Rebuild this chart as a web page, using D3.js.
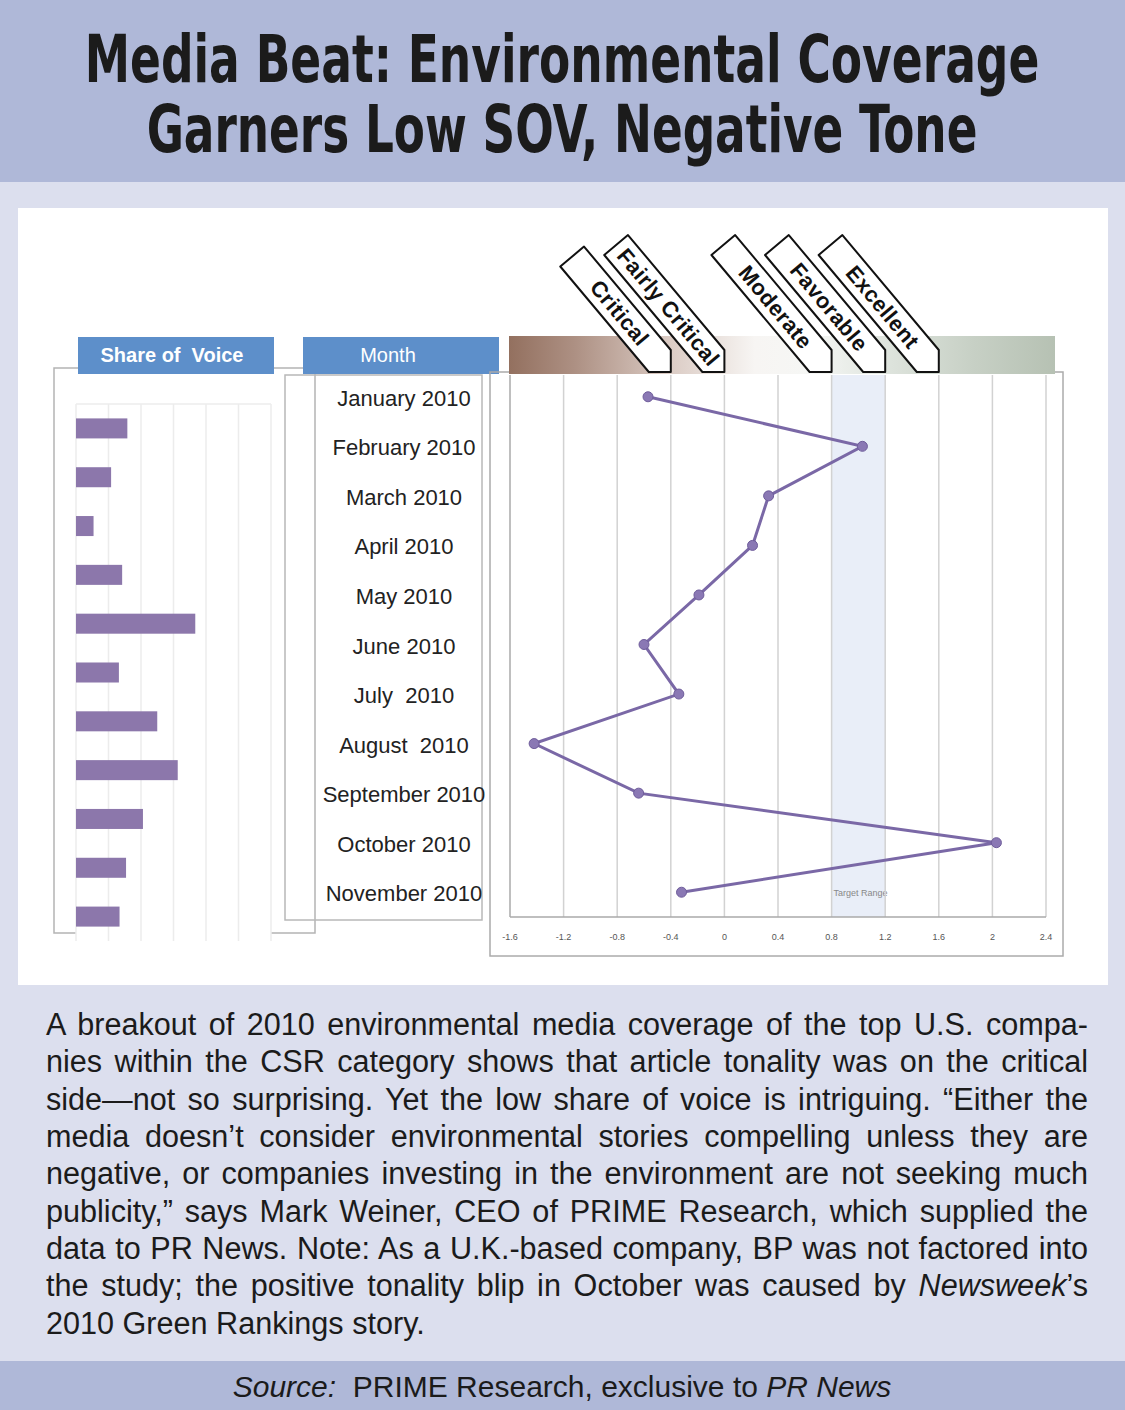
<!DOCTYPE html>
<html>
<head>
<meta charset="utf-8">
<script src="https://cdn.jsdelivr.net/npm/d3@7"></script>
<style>
body { margin: 0; background: #fff; }
svg text { font-family: "Liberation Sans", Arial, Helvetica, sans-serif; }
</style>
</head>
<body>
<svg id="chart" width="1125" height="1410"></svg>
<script>
const months = ["January 2010", "February 2010", "March 2010", "April 2010", "May 2010", "June 2010",
                "July  2010", "August  2010", "September 2010", "October 2010", "November 2010"];
const shareOfVoice = [1.58, 1.08, 0.54, 1.42, 3.67, 1.32, 2.5, 3.13, 2.06, 1.54, 1.34];
const tone = [-0.57, 1.03, 0.33, 0.21, -0.19, -0.60, -0.34, -1.42, -0.64, 2.03, -0.32];
const sovTicks = [0, 1, 2, 3, 4, 5, 6];
const toneTicks = [-1.6, -1.2, -0.8, -0.4, 0, 0.4, 0.8, 1.2, 1.6, 2, 2.4];
const toneTickLabels = ["-1.6", "-1.2", "-0.8", "-0.4", "0", "0.4", "0.8", "1.2", "1.6", "2", "2.4"];
const toneCategories = ["Critical", "Fairly Critical", "Moderate", "Favorable", "Excellent"];
const toneCategoryAt = [-0.4, 0, 0.8, 1.2, 1.6];
const targetRange = [0.8, 1.2];

const titleLines = ["Media Beat: Environmental Coverage", "Garners Low SOV, Negative Tone"];
const bodyLines = [
    "A breakout of 2010 environmental media coverage of the top U.S. compa-",
    "nies within the CSR category shows that article tonality was on the critical",
    "side\u2014not so surprising. Yet the low share of voice is intriguing. \u201CEither the",
    "media doesn\u2019t consider environmental stories compelling unless they are",
    "negative, or companies investing in the environment are not seeking much",
    "publicity,\u201D says Mark Weiner, CEO of PRIME Research, which supplied the",
    "data to PR News. Note: As a U.K.-based company, BP was not factored into",
    "the study; the positive tonality blip in October was caused by _Newsweek_\u2019s",
    "2010 Green Rankings story."
];
const sourceParts = ["_Source:_  PRIME Research, exclusive to _PR News_"];

const svg = d3.select("#chart");
const bandColor = "#afb8d8";

// backgrounds
svg.append("rect").attr("width", 1125).attr("height", 1410).attr("fill", "#dcdfee");
svg.append("rect").attr("width", 1125).attr("height", 182).attr("fill", bandColor);
svg.append("rect").attr("y", 1361).attr("width", 1125).attr("height", 49).attr("fill", bandColor);
svg.append("rect").attr("x", 18).attr("y", 208).attr("width", 1090).attr("height", 777).attr("fill", "#fff");

// title, squeezed to the reference width
svg.selectAll("text.title").data(titleLines).join("text").attr("class", "title")
    .attr("text-anchor", "middle")
    .style("font-family", "'Liberation Sans Narrow', 'Arial Narrow', 'DejaVu Sans Condensed', sans-serif")
    .style("font-weight", "bold").style("font-size", "66px").style("fill", "#1b1b1b")
    .text(d => d)
    .each(function (d, i) {
        const target = i == 0 ? 955 : 831;
        const sx = target / this.getComputedTextLength();
        const cx = i == 0 ? 562 : 562;
        d3.select(this).attr("transform", `translate(${cx},${i == 0 ? 82 : 152}) scale(${sx},1)`);
    });

// ---------- share of voice panel ----------
const sovX = d3.scaleLinear().domain([0, 6]).range([76, 271]);
const rowY = d3.scaleBand().domain(months).range([404, 941]).paddingInner(0.59).paddingOuter(0.295);

svg.append("path")
    .attr("d", "M76,933 H54 V368 H315 V933 H271")
    .attr("fill", "none").attr("stroke", "#b4b4b4").attr("stroke-width", 1.5);

const sovG = svg.append("g");
sovG.selectAll("line.grid").data(sovTicks).join("line").attr("class", "grid")
    .attr("x1", d => sovX(d)).attr("x2", d => sovX(d))
    .attr("y1", 404).attr("y2", 941)
    .attr("stroke", "#ececec").attr("stroke-width", 1.5);
sovG.append("line").attr("x1", sovX(0)).attr("x2", sovX(6)).attr("y1", 404).attr("y2", 404)
    .attr("stroke", "#ececec").attr("stroke-width", 1.5);
sovG.selectAll("rect.bar").data(shareOfVoice).join("rect").attr("class", "bar")
    .attr("x", sovX(0))
    .attr("y", (d, i) => rowY(months[i]))
    .attr("width", d => sovX(d) - sovX(0))
    .attr("height", rowY.bandwidth())
    .attr("fill", "#8c77ab");

// ---------- month panel ----------
svg.append("rect").attr("x", 285).attr("y", 375).attr("width", 197).attr("height", 545)
    .attr("fill", "none").attr("stroke", "#b8b8b8").attr("stroke-width", 1.5);

// headers
const headers = [{label: "Share of  Voice", x: 78, bold: true}, {label: "Month", x: 303, bold: false}];
const hdr = svg.selectAll("g.hdr").data(headers).join("g").attr("class", "hdr");
hdr.append("rect").attr("x", d => d.x).attr("y", 337).attr("width", 196).attr("height", 37).attr("fill", "#5d8fca");
hdr.append("text").attr("x", d => d.x + (d.bold ? 94 : 85)).attr("y", 362)
    .attr("text-anchor", "middle").style("fill", "#fff").style("font-size", "20px")
    .style("font-weight", d => d.bold ? "bold" : "normal").style("white-space", "pre")
    .text(d => d.label);

// ---------- tone panel ----------
const x = d3.scaleLinear().domain([-1.6, 2.4]).range([510, 1046]);
const y = d3.scaleBand().domain(months).range([372, 917]);
const yc = m => y(m) + y.bandwidth() / 2;

svg.selectAll("text.month").data(months).join("text").attr("class", "month")
    .attr("x", 404).attr("y", d => yc(d) + 9)
    .attr("text-anchor", "middle").style("font-size", "22px").style("fill", "#222")
    .style("white-space", "pre")
    .text(d => d);

svg.append("rect").attr("x", 490).attr("y", 372).attr("width", 573).attr("height", 584)
    .attr("fill", "none").attr("stroke", "#ababab").attr("stroke-width", 1.5);

svg.append("rect").attr("x", x(targetRange[0])).attr("y", 375)
    .attr("width", x(targetRange[1]) - x(targetRange[0])).attr("height", 542)
    .attr("fill", "#e9eef8");
svg.append("text").attr("x", x(targetRange[0]) + 2).attr("y", 896)
    .style("font-size", "9px").style("fill", "#888").text("Target Range");

svg.selectAll("line.tgrid").data(toneTicks).join("line").attr("class", "tgrid")
    .attr("x1", d => x(d)).attr("x2", d => x(d)).attr("y1", 375).attr("y2", 917)
    .attr("stroke", (d, i) => i == 0 ? "#aaa" : "#d2d2d2").attr("stroke-width", 1.5);
svg.append("line").attr("x1", x(-1.6)).attr("x2", x(2.4)).attr("y1", 917).attr("y2", 917)
    .attr("stroke", "#aaa").attr("stroke-width", 1.5);
svg.selectAll("text.tick").data(toneTicks).join("text").attr("class", "tick")
    .attr("x", d => x(d)).attr("y", 940).attr("text-anchor", "middle")
    .style("font-size", "9px").style("fill", "#555")
    .text((d, i) => toneTickLabels[i]);

// gradient bar
const grad = svg.append("defs").append("linearGradient").attr("id", "toneGrad");
[[0, "#93705f"], [0.12, "#ad9083"], [0.3, "#dccdc6"], [0.45, "#f7f5f3"], [0.55, "#f6f7f5"],
 [0.7, "#dde3dc"], [0.85, "#c7d0c5"], [1, "#b6c1b3"]].forEach(s =>
    grad.append("stop").attr("offset", s[0]).attr("stop-color", s[1]));
svg.append("rect").attr("x", 509).attr("y", 336).attr("width", 546).attr("height", 38)
    .attr("fill", "url(#toneGrad)");

// line + dots
const line = d3.line().x(d => x(d.v)).y(d => yc(d.m));
const pts = months.map((m, i) => ({m: m, v: tone[i]}));
svg.append("path").datum(pts).attr("d", line)
    .attr("fill", "none").attr("stroke", "#7a68a6").attr("stroke-width", 3);
svg.selectAll("circle.pt").data(pts).join("circle").attr("class", "pt")
    .attr("cx", d => x(d.v)).attr("cy", d => yc(d.m)).attr("r", 5)
    .attr("fill", "#8a78b4").attr("stroke", "#6f5d9b").attr("stroke-width", 1);

// category tags
const theta = 50 * Math.PI / 180;
const ux = Math.cos(theta), uy = Math.sin(theta);
const tipY = 372, tipCut = 22;
svg.selectAll("g.tag").data(toneCategories).join("g").attr("class", "tag")
    .each(function (label, i) {
        const g = d3.select(this);
        const tx = x(toneCategoryAt[i]);
        const len = i == 0 ? 135 : 150;
        const A = [tx, tipY - tipCut], B = [tx - tipCut, tipY];
        const bu = [A[0] - len * ux, A[1] - len * uy];
        const t = ux * (bu[0] - B[0]) + uy * (bu[1] - B[1]);
        const bl = [B[0] + t * ux, B[1] + t * uy];
        g.append("path")
            .attr("d", d3.line()([bu, A, [tx, tipY], B, bl]) + "Z")
            .attr("fill", "#fff").attr("stroke", "#111").attr("stroke-width", 2)
            .attr("stroke-linejoin", "round");
        const mx = (bu[0] + bl[0]) / 2 + (len / 2 + 6) * ux;
        const my = (bu[1] + bl[1]) / 2 + (len / 2 + 6) * uy;
        g.append("text")
            .attr("transform", `translate(${mx},${my}) rotate(50)`)
            .attr("text-anchor", "middle").attr("dominant-baseline", "central")
            .style("font-size", "22px").style("font-weight", "bold").style("fill", "#111")
            .style("letter-spacing", "0.4px")
            .text(label);
    });

// ---------- body text ----------
function addRich(sel, str) {
    str.split("_").forEach((part, k) => {
        if (part.length) sel.append("tspan").style("font-style", k % 2 ? "italic" : "normal").text(part);
    });
}
const body = svg.selectAll("text.body").data(bodyLines).join("text").attr("class", "body")
    .attr("x", 46).attr("y", (d, i) => 1035 + i * 37.35)
    .style("font-size", "30.6px").style("fill", "#1b1b1b")
    .each(function (d) { addRich(d3.select(this), d); });
body.each(function (d, i) {
    if (i == bodyLines.length - 1) return;
    const len = this.getComputedTextLength();
    const spaces = d.split(" ").length - 1;
    d3.select(this).style("word-spacing", ((1042 - len) / spaces) + "px");
});

// source
const src = svg.append("text").attr("x", 562).attr("y", 1397).attr("text-anchor", "middle")
    .style("font-size", "30px").style("fill", "#1b1b1b").style("white-space", "pre");
addRich(src, sourceParts[0]);
</script>
</body>
</html>
